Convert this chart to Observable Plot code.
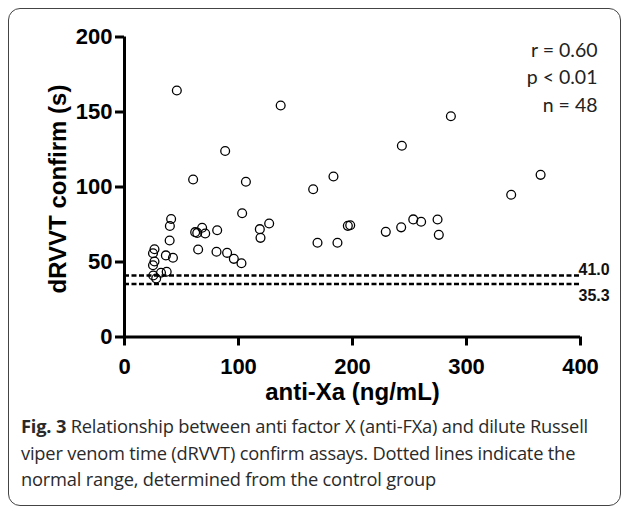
<!DOCTYPE html>
<html>
<head>
<meta charset="utf-8">
<script src="https://cdn.jsdelivr.net/npm/d3@7"></script>
<script src="https://cdn.jsdelivr.net/npm/@observablehq/plot@0.6"></script>
<style>
  html, body { margin: 0; padding: 0; background: #fff; }
  #wrap { position: relative; width: 630px; height: 511px; overflow: hidden; background: #fff; }
  #box { position: absolute; left: 8px; top: 8px; width: 613px; height: 498px; border: 1.5px solid #444; border-radius: 12px; box-sizing: border-box; }
  #chart { position: absolute; left: 0; top: 0; }
  #caption { position: absolute; left: 21px; top: 413px; font-family: "Open Sans", sans-serif; font-size: 18.3px; line-height: 26.5px; color: #2a2a2a; white-space: nowrap; letter-spacing: -0.2px; }
  #caption b { font-weight: 700; }
</style>
</head>
<body>
<div id="wrap">
  <div id="box"></div>
  <div id="chart"></div>
  <div id="caption"><b>Fig. 3</b> Relationship between anti factor X (anti-FXa) and dilute Russell<br>viper venom time (dRVVT) confirm assays. Dotted lines indicate the<br>normal range, determined from the control group</div>
</div>
<script>
const antiXa = [45.9, 88.3, 137, 60.2, 106.5, 103.2, 40.9, 39.8, 39.6, 26.3, 25, 36.3, 42.5, 26.3, 25,
  25.2, 27.8, 32, 37, 62, 63.8, 68.1, 70.8, 81.3, 64.6, 80.7, 90, 95.9, 102.6, 118.7, 119.3, 126.9,
  165.5, 183.3, 169.3, 186.8, 195.9, 198, 229.2, 242.7, 253.3, 260.2, 274.6, 275.7, 243.3, 286.3, 339.2, 365];
const dRVVT = [164.3, 124, 154.3, 105, 103.5, 82.5, 78.7, 74, 64.3, 58.5, 55.8, 54.4, 52.8, 50.3, 47.8,
  41, 39, 42.8, 43.5, 69.9, 69.4, 72.8, 69, 71.2, 58.3, 56.8, 56.1, 52.1, 49.2, 71.9, 66.1, 75.7,
  98.5, 107, 62.8, 62.8, 74.1, 74.5, 70.1, 73.1, 78.4, 76.8, 78.3, 68.1, 127.5, 147.2, 94.8, 108.1];
const refValues = [41.0, 35.3];
const refLabels = ["41.0", "35.3"];
const statLabels = ["r = 0.60", "p < 0.01", "n = 48"];
const xTicks = [0, 100, 200, 300, 400];
const yTicks = [0, 50, 100, 150, 200];
const xLabel = "anti-Xa (ng/mL)";
const yLabel = "dRVVT confirm (s)";

const points = antiXa.map((x, i) => ({x, y: dRVVT[i]}));

const chart = Plot.plot({
  width: 630,
  height: 420,
  marginLeft: 124,
  marginRight: 50,
  marginTop: 36.5,
  marginBottom: 83.5,
  x: {domain: [0, 400]},
  y: {domain: [0, 200]},
  style: {fontFamily: "'Liberation Sans', Arial, sans-serif", fontWeight: "bold", color: "#000", background: "transparent", overflow: "visible"},
  marks: [
    Plot.ruleY(refValues, {x1: 0, x2: 400, stroke: "#000", strokeWidth: 2.5, strokeDasharray: "5,2.5"}),
    Plot.text([refLabels[0]], {x: 400, y: refValues[0], textAnchor: "start", lineAnchor: "bottom", dx: -2, dy: -1, fontSize: 16, fontWeight: "bold", fill: "#111"}),
    Plot.text([refLabels[1]], {x: 400, y: refValues[1], textAnchor: "start", lineAnchor: "top", dx: -2, dy: 6, fontSize: 16, fontWeight: "bold", fill: "#111"}),
    Plot.dot(points, {x: "x", y: "y", r: 4.4, stroke: "#000", strokeWidth: 1.3, fill: "none"}),
    Plot.axisX({ticks: xTicks, tickSize: 9, tickPadding: 12, tickFormat: d => String(d), fontSize: 22, fontWeight: "bold", strokeWidth: 3, label: null}),
    Plot.axisY({ticks: yTicks, tickSize: 9, tickPadding: 3, tickFormat: d => String(d), fontSize: 22, fontWeight: "bold", strokeWidth: 3, label: null}),
    Plot.ruleX([0], {y1: 0, y2: 200, stroke: "#000", strokeWidth: 3}),
    Plot.ruleY([0], {x1: 0, x2: 400, stroke: "#000", strokeWidth: 3}),
    Plot.text([yLabel], {frameAnchor: "left", textAnchor: "middle", rotate: -90, dx: -66, dy: 2, fontSize: 24, fontWeight: "bold"}),
    Plot.text([xLabel], {frameAnchor: "bottom", textAnchor: "middle", lineAnchor: "middle", dy: 55, fontSize: 24, fontWeight: "bold"}),
    Plot.text([statLabels.join("\n")], {frameAnchor: "top-right", textAnchor: "end", lineAnchor: "top", lineHeight: 1.42, dx: 17, dy: 0, fontSize: 19.5, fontFamily: "Lato", fontWeight: "normal", fill: "#222"})
  ]
});
document.getElementById("chart").appendChild(chart);
</script>
</body>
</html>
